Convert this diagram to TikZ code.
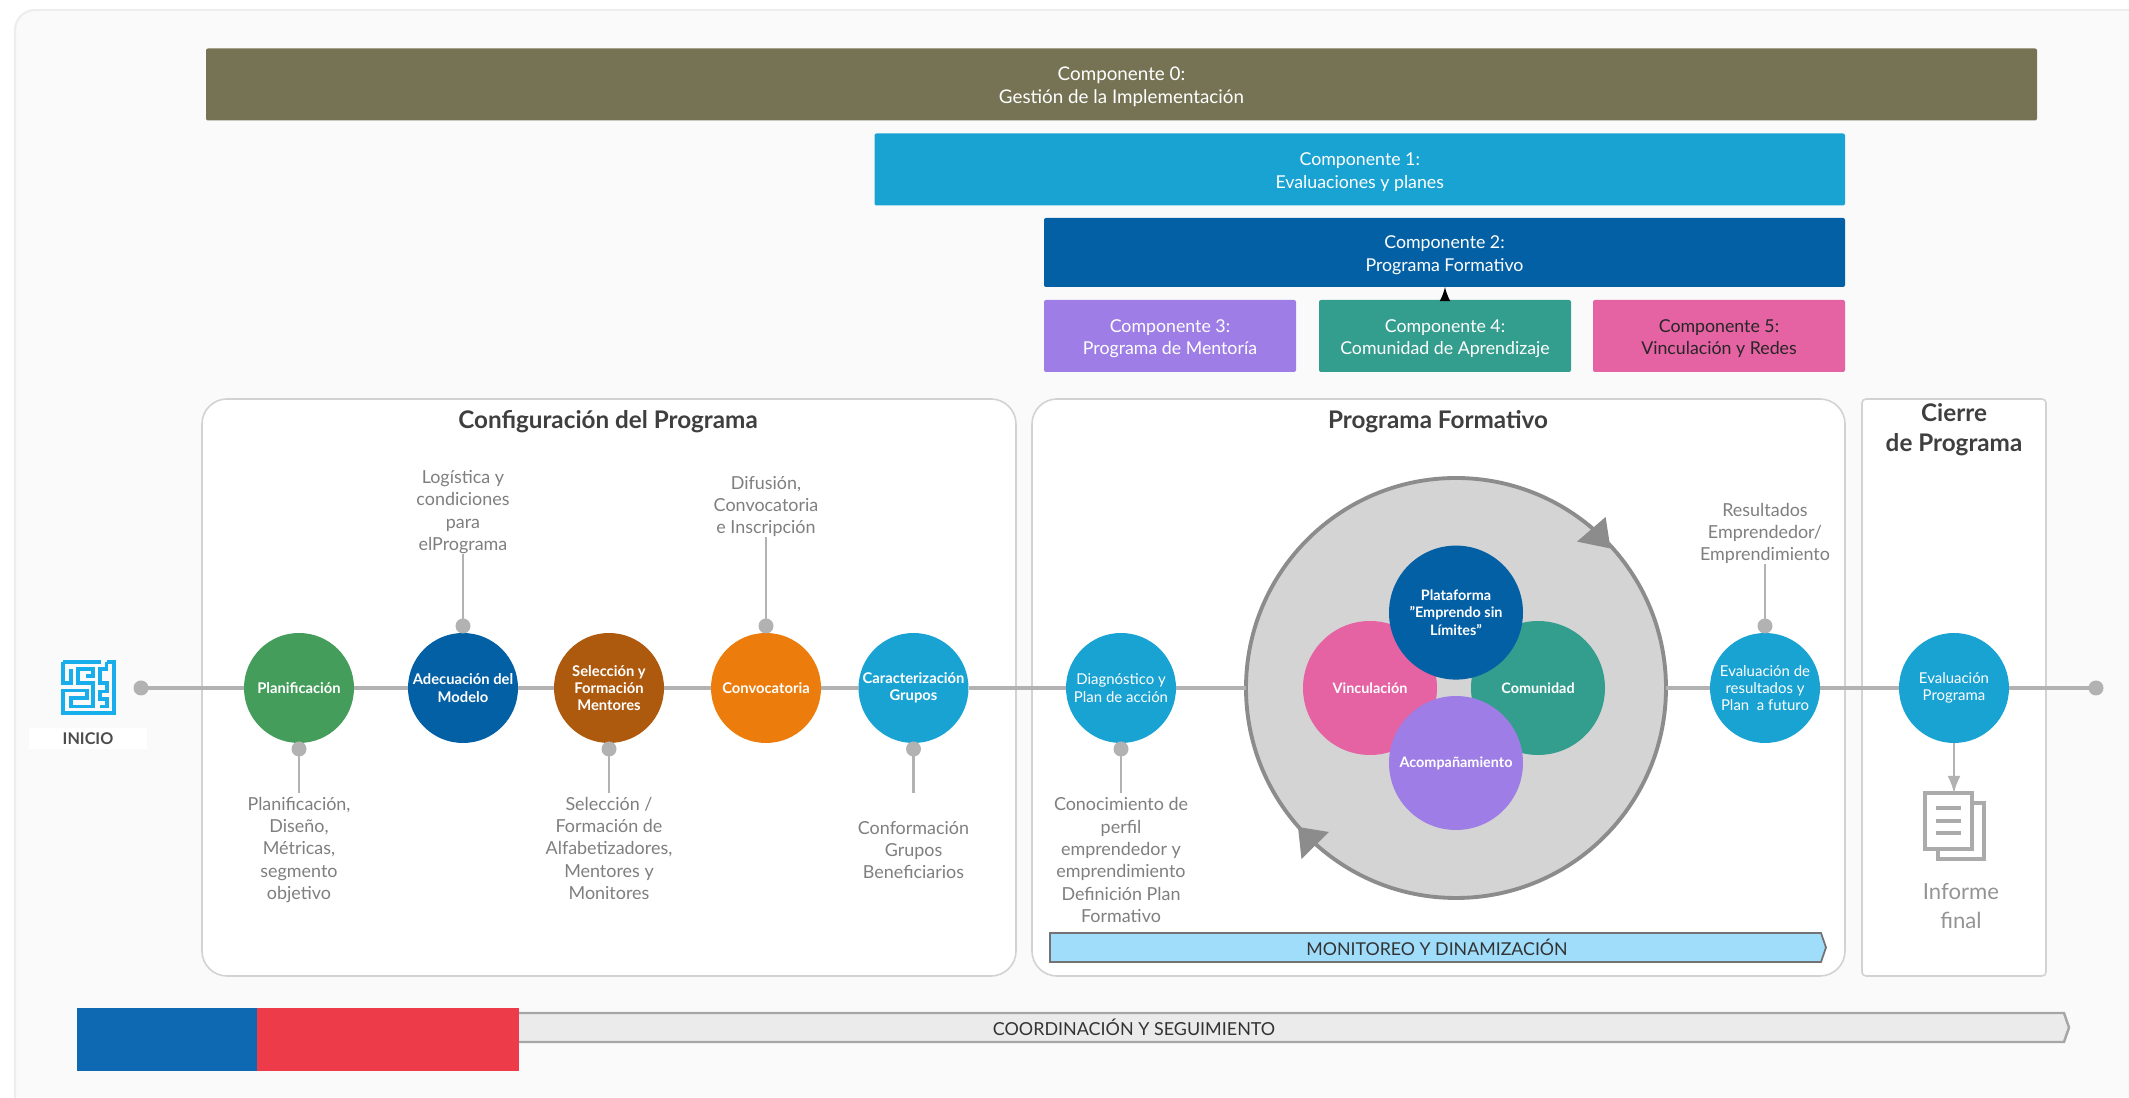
\documentclass[tikz,border=0pt]{standalone}
\usepackage{fontspec}
\setmainfont{Lato}
\usetikzlibrary{arrows}

\definecolor{verde}{HTML}{449D5B}
\definecolor{azul}{HTML}{0460A5}
\definecolor{cafe}{HTML}{AE5A0E}
\definecolor{naranja}{HTML}{EC7C0C}
\definecolor{celeste}{HTML}{19A3D3}
\definecolor{oliva}{HTML}{757353}
\definecolor{lila}{HTML}{9E7EE6}
\definecolor{teal}{HTML}{339D8E}
\definecolor{rosa}{HTML}{E562A3}
\definecolor{linea}{HTML}{B2B2B2}
\definecolor{texto}{HTML}{7F7F7F}
\definecolor{titulo}{HTML}{3F3F3F}
\definecolor{borde}{HTML}{D2D2D2}
\definecolor{monitor}{HTML}{9FDDFB}
\definecolor{laberinto}{HTML}{18AEEB}
\definecolor{bandaazul}{HTML}{0E68B2}
\definecolor{bandaroja}{HTML}{EE3B49}
\newcommand{\alto}{\rule{0pt}{5.2pt}}

\begin{document}
\begin{tikzpicture}[y=-1cm,>=latex,every node/.style={outer sep=0pt}]
    \tikzstyle{barra}=[rectangle, rounded corners=0.02cm, minimum height=0.72cm, text=white, align=center, inner sep=0pt, font=\fontsize{5.05}{6.4}\selectfont]
    \tikzstyle{etapa}=[circle, minimum size=1.1cm, inner sep=0pt, text=white, align=center, font=\fontsize{4.25}{4.95}\selectfont]
    \tikzstyle{etapab}=[etapa, font=\bfseries\fontsize{4.2}{4.95}\selectfont]
    \tikzstyle{nucleo}=[circle, minimum size=1.34cm, inner sep=0pt, text=white, align=center, font=\bfseries\fontsize{4.1}{5}\selectfont]
    \tikzstyle{punto}=[circle, fill=linea, minimum size=0.15cm, inner sep=0pt]
    \tikzstyle{eje}=[draw=linea, line width=1.1pt]
    \tikzstyle{tallo}=[draw=linea, line width=0.7pt]
    \tikzstyle{desc}=[text=texto, align=center, inner sep=0pt, font=\fontsize{5.1}{6.37}\selectfont]
    \tikzstyle{titulo}=[text=titulo, align=center, inner sep=0pt, font=\bfseries\fontsize{6.9}{8.5}\selectfont]
    \tikzstyle{panel}=[draw=borde, fill=white, line width=0.45pt]
    \useasboundingbox (0,0) rectangle (21.29,10.98);
    \clip (0,0) rectangle (21.29,10.98);

    % fondo
    \draw[fill=black!2, draw=black!7, line width=0.6pt, rounded corners=0.2cm] (0.15,0.1) rectangle (21.6,11.4);

    % componentes
    \node[barra, fill=oliva, minimum width=18.31cm, font=\fontsize{5.35}{6.4}\selectfont] (comp0) at (11.215,0.845) {\alto Componente 0:\\Gestión de la Implementación};
    \node[barra, fill=celeste, minimum width=9.705cm] (comp1) at (13.5975,1.695) {\alto Componente 1:\\Evaluaciones y planes};
    \node[barra, fill=azul, minimum width=8.01cm, minimum height=0.69cm] (comp2) at (14.445,2.525) {\alto Componente 2:\\Programa Formativo};
    \node[barra, fill=lila, minimum width=2.52cm] (comp3) at (11.70,3.36) {\alto Componente 3:\\Programa de Mentoría};
    \node[barra, fill=teal, minimum width=2.52cm] (comp4) at (14.45,3.36) {\alto Componente 4:\\Comunidad de Aprendizaje};
    \node[barra, fill=rosa, minimum width=2.52cm, text=black!85] (comp5) at (17.19,3.36) {\alto Componente 5:\\Vinculación y Redes};
    \draw[->, line width=0.4pt, black] (comp4.north) -- (comp4.north |- comp2.south);

    % paneles
    \draw[panel, rounded corners=0.25cm] (2.02,3.99) rectangle (10.16,9.76);
    \draw[panel, rounded corners=0.25cm] (10.32,3.99) rectangle (18.45,9.76);
    \draw[panel, rounded corners=0.04cm] (18.62,3.99) rectangle (20.46,9.76);
    \node[titulo] (tconf) at (6.08,4.215) {Configuración del Programa};
    \node[titulo] (tform) at (14.38,4.215) {Programa Formativo};
    \node[titulo] (tcier) at (19.54,4.30) {Cierre\\de Programa};

    % etapas
    \node[punto] (ini) at (1.41,6.88) {};
    \node[punto] (fin) at (20.96,6.88) {};
    \node[etapab, fill=verde] (plan) at (2.99,6.88) {Planificación};
    \node[etapab, fill=azul] (adec) at (4.63,6.88) {Adecuación del\\Modelo};
    \node[etapab, fill=cafe] (sele) at (6.09,6.88) {Selección y\\Formación\\Mentores};
    \node[etapab, fill=naranja] (conv) at (7.66,6.88) {Convocatoria};
    \node[etapab, fill=celeste] (cara) at (9.135,6.88) {Caracterización\\Grupos};
    \node[etapa, fill=celeste] (diag) at (11.21,6.88) {Diagnóstico y\\Plan de acción};
    \node[etapa, fill=celeste] (evres) at (17.65,6.88) {Evaluación de\\resultados y\\Plan\ \ a futuro};
    \node[etapa, fill=celeste] (evpro) at (19.54,6.88) {Evaluación\\Programa};

    % ciclo central
    \node[circle, draw=black!45, fill=black!17, line width=1.1pt, minimum size=4.2cm, inner sep=0pt] (ciclo) at (14.56,6.88) {};
    \fill[black!45] (16.056,5.17) -- (15.77,5.416) -- (16.105,5.485) -- cycle;
    \fill[black!45] (12.98,8.27) -- (13.29,8.32) -- (13.015,8.59) -- cycle;
    \node[nucleo, fill=rosa] (vinc) at (13.70,6.88) {Vinculación};
    \node[nucleo, fill=teal] (comu) at (15.38,6.88) {Comunidad};
    \node[nucleo, fill=azul] (plat) at (14.56,6.126) {Plataforma\\"Emprendo sin\\Límites"};
    \node[nucleo, fill=lila] (acom) at (14.56,7.63) {Acompañamiento};

    % linea de tiempo
    \draw[eje] (ini.center) -- (plan);
    \draw[eje] (plan) -- (adec);
    \draw[eje] (adec) -- (sele);
    \draw[eje] (sele) -- (conv);
    \draw[eje] (conv) -- (cara);
    \draw[eje] (cara) -- (diag);
    \draw[eje] (diag) -- (ciclo);
    \draw[eje] (ciclo) -- (evres);
    \draw[eje] (evres) -- (evpro);
    \draw[eje] (evpro) -- (fin.center);

    % descripciones
    \node[desc, anchor=south] (tadec) at (4.63,5.54) {Logística y\\condiciones\\para\\elPrograma};
    \node[punto] (padec) at (4.63,6.26) {};
    \draw[tallo] (padec.center) -- (tadec);
    \node[desc, anchor=south] (tconv) at (7.66,5.37) {Difusión,\\Convocatoria\\e Inscripción};
    \node[punto] (pconv) at (7.66,6.26) {};
    \draw[tallo] (pconv.center) -- (tconv);
    \node[desc, anchor=south] (tres) at (17.65,5.64) {Resultados\\Emprendedor/\\Emprendimiento};
    \node[punto] (pres) at (17.65,6.26) {};
    \draw[tallo] (pres.center) -- (tres);
    \node[desc, anchor=north] (tplan) at (2.99,7.97) {Planificación,\\Diseño,\\Métricas,\\segmento\\objetivo};
    \node[punto] (pplan) at (2.99,7.49) {};
    \draw[tallo, shorten >=0.04cm] (pplan.center) -- (tplan);
    \node[desc, anchor=north] (tsele) at (6.09,7.97) {Selección /\\Formación de\\Alfabetizadores,\\Mentores y\\Monitores};
    \node[punto] (psele) at (6.09,7.49) {};
    \draw[tallo, shorten >=0.04cm] (psele.center) -- (tsele);
    \node[desc] (tcara) at (9.135,8.50) {Conformación\\Grupos\\Beneficiarios};
    \node[punto] (pcara) at (9.135,7.49) {};
    \coordinate (fcara) at (9.135,7.93);
    \draw[tallo] (pcara.center) -- (fcara);
    \node[desc, anchor=north] (tdiag) at (11.21,7.975) {Conocimiento de\\perfil\\emprendedor y\\emprendimiento\\Definición Plan\\Formativo};
    \node[punto] (pdiag) at (11.21,7.49) {};
    \draw[tallo, shorten >=0.045cm] (pdiag.center) -- (tdiag);

    % informe final
    \draw[draw=black!33, line width=1pt, fill=white] (19.38,8.03) rectangle (19.84,8.59);
    \node[rectangle, draw=black!33, line width=1pt, fill=white, minimum width=0.47cm, minimum height=0.56cm, inner sep=0pt] (doc) at (19.485,8.21) {};
    \draw[draw=black!33, line width=1pt] (19.36,8.08) -- (19.61,8.08) (19.36,8.21) -- (19.61,8.21) (19.36,8.33) -- (19.61,8.33);
    \draw[->, tallo] (evpro) -- (evpro |- doc.north);
    \node[inner sep=0pt, align=center, text=black!42, font=\fontsize{6.3}{8}\selectfont] (tinf) at (19.61,9.06) {Informe\\final};

    % inicio
    \node[fill=white, minimum width=1.18cm, minimum height=0.21cm, inner sep=0pt, text=black!70, font=\bfseries\fontsize{4.6}{6}\selectfont] (tini) at (0.88,7.385) {INICIO};
    \begin{scope}[shift={(0.5,6.5)}, x=0.03333mm, y=-0.03333mm, draw=laberinto, line width=1.05pt, line join=miter]
        \draw (40,36) -- (152,36);
        \draw (170,36) -- (192,36) -- (192,190) -- (40,190) -- (40,122) -- (110,122) -- (110,145) -- (62,145) -- (62,170) -- (130,170) -- (130,100) -- (85,100) -- (85,58) -- (130,58) -- (130,78) -- (108,78);
        \draw (40,36) -- (40,100) -- (62,100) -- (62,58);
        \draw (170,36) -- (170,58) -- (150,58) -- (150,100) -- (172,100) -- (172,125) -- (150,125) -- (150,148) -- (172,148) -- (172,170) -- (150,170);
    \end{scope}

    % monitoreo y coordinacion
    \draw[draw=black!55, fill=monitor, line width=0.5pt] (10.5,9.33) -- (18.21,9.33) -- (18.26,9.475) -- (18.21,9.62) -- (10.5,9.62) -- cycle;
    \node[inner sep=0pt, text=black!80, font=\fontsize{5.05}{6}\selectfont] (tmon) at (14.37,9.47) {MONITOREO Y DINAMIZACIÓN};
    \draw[draw=black!35, fill=black!8, line width=0.7pt] (5.1,10.13) -- (20.64,10.13) -- (20.69,10.275) -- (20.64,10.42) -- (5.1,10.42) -- cycle;
    \node[inner sep=0pt, text=black!80, font=\fontsize{5.1}{6}\selectfont] (tcoo) at (11.34,10.27) {COORDINACIÓN Y SEGUIMIENTO};
    \fill[bandaazul] (0.77,10.08) rectangle (2.57,10.71);
    \fill[bandaroja] (2.57,10.08) rectangle (5.19,10.71);
\end{tikzpicture}
\end{document}
